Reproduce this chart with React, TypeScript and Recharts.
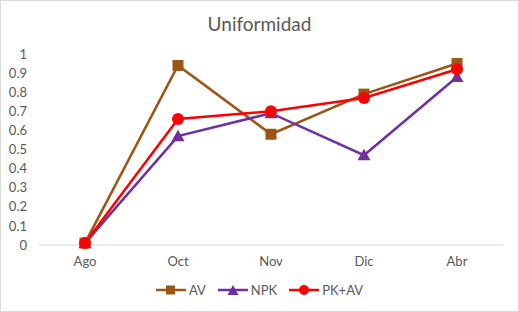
import { Line, LineChart, XAxis, YAxis } from "recharts";

const months = ["Ago", "Oct", "Nov", "Dic", "Abr"];
const av = [0.01, 0.94, 0.58, 0.79, 0.95];
const npk = [0.01, 0.57, 0.69, 0.47, 0.88];
const pkav = [0.01, 0.66, 0.7, 0.77, 0.92];
const yTicks = [0, 0.1, 0.2, 0.3, 0.4, 0.5, 0.6, 0.7, 0.8, 0.9, 1];

const data = months.map((m, i) => ({ month: m, AV: av[i], NPK: npk[i], "PK+AV": pkav[i] }));

const FONT = "Lato, 'Open Sans', sans-serif";
const BROWN = "#9c5516";
const PURPLE = "#7030a0";
const RED = "#ff0000";

const Square = (props: any) => {
  const { cx, cy, index } = props;
  return <rect key={"s" + index} x={cx - 5.5} y={cy - 5.5} width={11} height={11} fill={BROWN} />;
};

const Triangle = (props: any) => {
  const { cx, cy, index } = props;
  return (
    <polygon
      key={"t" + index}
      points={`${cx},${cy - 6.5} ${cx + 6.5},${cy + 5} ${cx - 6.5},${cy + 5}`}
      fill={PURPLE}
    />
  );
};

const Circle = (props: any) => {
  const { cx, cy, index } = props;
  return <circle key={"c" + index} cx={cx} cy={cy} r={6} fill={RED} />;
};

function LegendIcon({ kind, color }: { kind: string; color: string }) {
  return (
    <svg width={30} height={12} style={{ marginRight: 3 }}>
      <line x1={0} y1={6} x2={30} y2={6} stroke={color} strokeWidth={2.5} />
      {kind === "square" && <rect x={10} y={1.5} width={9} height={9} fill={color} />}
      {kind === "triangle" && <polygon points="15,1 20.5,11 9.5,11" fill={color} />}
      {kind === "circle" && <circle cx={15} cy={6} r={5} fill={color} />}
    </svg>
  );
}

const legendItems = [
  { name: "AV", kind: "square", color: BROWN },
  { name: "NPK", kind: "triangle", color: PURPLE },
  { name: "PK+AV", kind: "circle", color: RED },
];

export default function App() {
  return (
    <div
      style={{
        position: "fixed",
        left: 0,
        top: 0,
        width: 519,
        height: 312,
        background: "#fff",
        border: "1px solid #d9d9d9",
        boxSizing: "border-box",
      }}
    >
      <div
        style={{
          position: "absolute",
          top: 11,
          width: "100%",
          textAlign: "center",
          fontFamily: FONT,
          fontSize: 19,
          color: "#595959",
        }}
      >
        Uniformidad
      </div>
      <div style={{ position: "absolute", left: -1, top: -1 }}>
        <LineChart width={519} height={312} data={data} margin={{ top: 54, right: 16, bottom: 37, left: 0 }}>
          <XAxis
            dataKey="month"
            height={30}
            padding={{ left: 46, right: 46 }}
            tickLine={false}
            tickSize={0}
            tickMargin={12}
            axisLine={{ stroke: "#d9d9d9" }}
            tick={{ fill: "#595959", fontSize: 13, fontFamily: FONT }}
          />
          <YAxis
            width={39}
            domain={[0, 1]}
            ticks={yTicks}
            interval={0}
            axisLine={false}
            tickLine={false}
            tickSize={0}
            tickMargin={12}
            tick={{ fill: "#595959", fontSize: 13, fontFamily: FONT }}
          />
          <Line dataKey="AV" stroke={BROWN} strokeWidth={2.5} dot={Square} activeDot={false} isAnimationActive={false} />
          <Line dataKey="NPK" stroke={PURPLE} strokeWidth={2.5} dot={Triangle} activeDot={false} isAnimationActive={false} />
          <Line dataKey="PK+AV" stroke={RED} strokeWidth={2.5} dot={Circle} activeDot={false} isAnimationActive={false} />
        </LineChart>
      </div>
      <div
        style={{
          position: "absolute",
          top: 281,
          width: "100%",
          display: "flex",
          justifyContent: "center",
          fontFamily: FONT,
          fontSize: 13,
          color: "#595959",
        }}
      >
        {legendItems.map((it) => (
          <div key={it.name} style={{ display: "flex", alignItems: "center", margin: "0 6px" }}>
            <LegendIcon kind={it.kind} color={it.color} />
            <span>{it.name}</span>
          </div>
        ))}
      </div>
    </div>
  );
}
